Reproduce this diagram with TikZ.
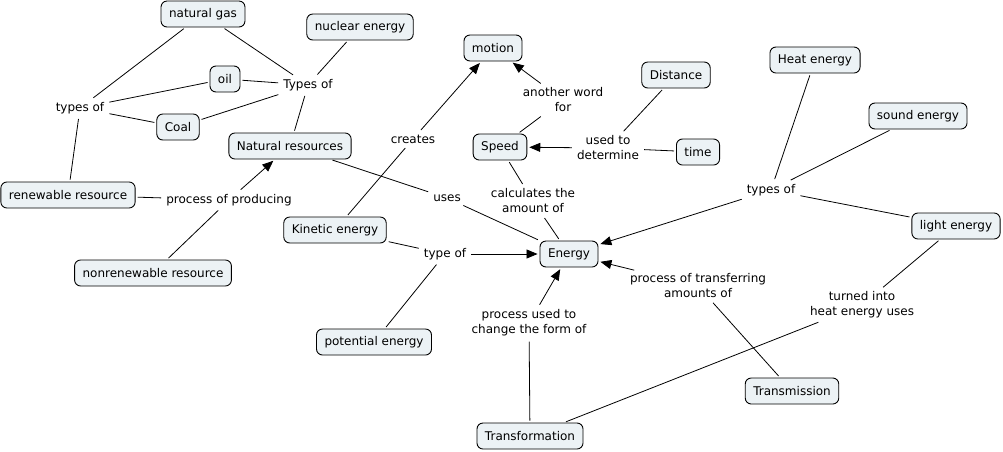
\documentclass[tikz,border=0pt]{standalone}
\usepackage{fontspec}
\setmainfont{DejaVu Sans}
\usetikzlibrary{arrows.meta}
\definecolor{boxfill}{RGB}{236,242,245}
\begin{document}
\begin{tikzpicture}[x=1pt,y=-1pt,
  concept/.style={draw=black, fill=boxfill, rounded corners=6pt, line width=0.9pt, minimum height=26pt, inner xsep=8pt, font=\fontsize{12}{15}\selectfont},
  lab/.style={inner sep=3pt, align=center, font=\fontsize{12}{15}\selectfont},
  conn/.style={line width=0.8pt, shorten <=2pt, shorten >=2pt},
  arr/.style={conn, -{Triangle[length=11pt,width=9pt]}}]
\useasboundingbox (0,0) rectangle (1003,451);
% concepts
\node[concept] (ng) at (203,14) {natural gas};
\node[concept] (nuc) at (360,27) {nuclear energy};
\node[concept] (mo) at (493,48) {motion};
\node[concept] (oil) at (225,79) {oil};
\node[concept] (coal) at (178,127) {Coal};
\node[concept] (nr) at (290,146) {Natural resources};
\node[concept] (di) at (676,75) {Distance};
\node[concept] (he) at (815,60) {Heat energy};
\node[concept] (so) at (918,116) {sound energy};
\node[concept] (sp) at (500,147) {Speed};
\node[concept] (ti) at (698,152) {time};
\node[concept] (rr) at (68,195) {renewable resource};
\node[concept] (ke) at (335,230) {Kinetic energy};
\node[concept] (en) at (569,254) {Energy};
\node[concept] (le) at (956,226) {light energy};
\node[concept] (nonr) at (153,273) {nonrenewable resource};
\node[concept] (pe) at (374,342) {potential energy};
\node[concept] (tm) at (792,391) {Transmission};
\node[concept] (tf) at (530,436) {Transformation};
% linking phrases
\node[lab] (tl) at (80,108) {types of};
\node[lab] (tr) at (308,85) {Types of};
\node[lab] (pp) at (229,200) {process of producing};
\node[lab] (cr) at (413,139) {creates};
\node[lab] (aw) at (563,100) {another word\\for};
\node[lab] (ud) at (608,148) {used to\\determine};
\node[lab] (us) at (447,198) {uses};
\node[lab] (ca) at (533,201) {calculates the\\amount of};
\node[lab] (tyr) at (771,190) {types of};
\node[lab] (tyo) at (445,254) {type of};
\node[lab] (pt) at (698,286) {process of transferring\\amounts of};
\node[lab] (hu) at (862,305) {turned into\\heat energy uses};
\node[lab] (pu) at (529,323) {process used to\\change the form of};
% connectors
\draw[conn] (ng) -- (tl);
\draw[conn] (oil) -- (tl);
\draw[conn] (coal) -- (tl);
\draw[conn] (rr) -- (tl);
\draw[conn] (ng) -- (tr);
\draw[conn] (oil) -- (tr);
\draw[conn] (coal) -- (tr);
\draw[conn] (nuc) -- (tr);
\draw[conn] (nr) -- (tr);
\draw[conn] (rr) -- (pp);
\draw[conn] (nonr) -- (pp);
\draw[arr] (pp) -- (nr);
\draw[conn] (ke) -- (cr);
\draw[arr] (cr) -- (mo);
\draw[conn] (sp) -- (aw);
\draw[arr] (aw) -- (mo);
\draw[conn] (di) -- (ud);
\draw[conn] (ti) -- (ud);
\draw[arr] (ud) -- (sp);
\draw[conn] (nr) -- (us);
\draw[conn] (us) -- (en);
\draw[conn] (sp) -- (ca);
\draw[conn] (ca) -- (en);
\draw[conn] (he) -- (tyr);
\draw[conn] (so) -- (tyr);
\draw[conn] (le) -- (tyr);
\draw[arr] (tyr) -- (en);
\draw[conn] (ke) -- (tyo);
\draw[conn] (pe) -- (tyo);
\draw[arr] (tyo) -- (en);
\draw[conn] (tm) -- (pt);
\draw[arr] (pt) -- (en);
\draw[conn] (tf) -- (pu);
\draw[arr] (pu) -- (en);
\draw[conn] (le) -- (hu);
\draw[conn] (hu) -- (tf);
\end{tikzpicture}
\end{document}
